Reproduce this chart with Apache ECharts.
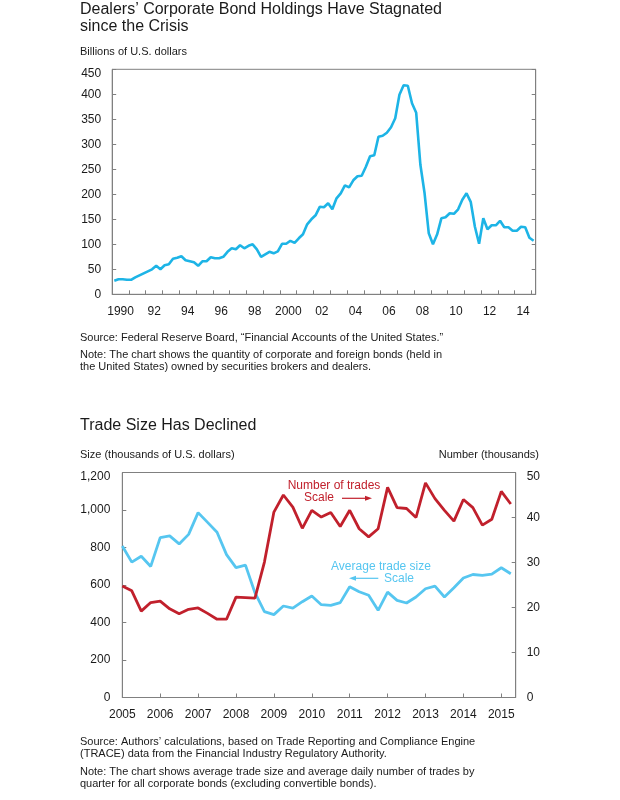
<!DOCTYPE html>
<html><head><meta charset="utf-8">
<script src="https://cdn.jsdelivr.net/npm/echarts@6/dist/echarts.min.js"></script>
<style>html,body{margin:0;padding:0;background:#fff}#c{width:620px;height:800px}</style>
</head><body><div id="c"></div>
<script>
// ---------- Chart 1: Dealers' corporate bond holdings (quarterly, 1990Q1 - 2015Q1) ----------
const holdingsFirstQuarter = 1990; // year of first quarter
const holdings = [
  27, 30, 30, 29, 29, 34, 38, 42, 46, 50,
  57, 50, 58, 60, 71, 73, 76, 68, 66, 64,
  57, 66, 66, 74, 72, 72, 75, 85, 92, 90,
  98, 92, 97, 100, 90, 75, 80, 85, 82, 86,
  101, 101, 107, 103, 112, 120, 140, 150, 158, 175,
  174, 182, 170, 192, 202, 218, 214, 228, 236, 237,
  255, 276, 278, 315, 317, 323, 334, 352, 399, 418,
  417, 382, 363, 259, 202, 122, 100, 120, 152, 154,
  162, 161, 170, 189, 202, 185, 135, 101, 152, 130,
  138, 138, 147, 134, 134, 127, 127, 135, 134, 113,
  107
];
const topYearLabels = ['1990','92','94','96','98','2000','02','04','06','08','10','12','14'];
const topYTicks = ['0','50','100','150','200','250','300','350','400','450'];

// ---------- Chart 2: Trade size and number of trades (quarterly, 2005Q1 - 2015Q2) ----------
const tradeFirstQuarter = 2005;
const avgTradeSize = [
  808, 722, 753, 699, 853, 862, 819, 870, 986, 934,
  881, 762, 693, 706, 559, 458, 442, 488, 477, 511,
  541, 495, 491, 506, 591, 564, 545, 465, 562, 518,
  504, 536, 580, 594, 536, 585, 637, 656, 651, 658,
  692, 660
];
const numTrades = [
  24.8, 23.7, 19.2, 21.1, 21.4, 19.7, 18.6, 19.6, 19.9, 18.7,
  17.4, 17.4, 22.3, 22.2, 22.1, 30.1, 41.2, 45.0, 42.3, 37.6,
  41.6, 40.1, 41.1, 38.0, 41.6, 37.5, 35.7, 37.5, 46.7, 42.2,
  42.0, 40.0, 47.7, 44.2, 41.6, 39.2, 44.0, 42.2, 38.3, 39.6,
  45.8, 43.0
];
const bottomYearLabels = ['2005','2006','2007','2008','2009','2010','2011','2012','2013','2014','2015'];
const sizeTicks = ['0','200','400','600','800','1,000','1,200'];
const countTicks = ['0','10','20','30','40','50'];

const FONT = '"Liberation Sans", Arial, Helvetica, sans-serif';
const TXT = '#1a1a1a';
const AX = '#808080';
const TOPBLUE = '#1DB4E6';
const BLUE = '#56C6F0';
const RED = '#C1202C';

const holdingsData = holdings.map((v, i) => [holdingsFirstQuarter + 0.125 + i * 0.25, v]);
const sizeData = avgTradeSize.map((v, i) => [tradeFirstQuarter + i * 0.25, v]);
const countData = numTrades.map((v, i) => [tradeFirstQuarter + i * 0.25, v]);

// top-most tick label sits a little below its tick, as in the reference
function tickFmt(arr, step) {
  return function (v) {
    const k = Math.round(v / step);
    if (arr[k] === undefined) return '';
    return k === arr.length - 1 ? '{top|' + arr[k] + '}' : arr[k];
  };
}
const richTop = { top: { padding: [8, 0, 0, 0], fontSize: 12, fontFamily: FONT, color: TXT } };
const axLine = { show: true, lineStyle: { color: AX, width: 1 } };
const tickIn = { show: true, inside: true, length: 4, lineStyle: { color: AX, width: 1 } };
const lbl = (extra) => Object.assign({ color: TXT, fontSize: 12, fontFamily: FONT }, extra);

const chart = echarts.init(document.getElementById('c'), null, { renderer: 'canvas' });

function txt(x, y, s, size) {
  return {
    type: 'text', x: x, y: y, silent: true,
    style: { text: s, fill: TXT, font: size + 'px ' + FONT, verticalAlign: 'middle', align: 'left' }
  };
}
function arrow(x1, x2, y, color) {
  const dir = x2 > x1 ? 1 : -1;
  return {
    type: 'group', silent: true, children: [
      { type: 'line', shape: { x1: x1, y1: y, x2: x2 - dir * 5, y2: y }, style: { stroke: color, lineWidth: 1.2 } },
      { type: 'polygon', shape: { points: [[x2, y], [x2 - dir * 7, y - 2.5], [x2 - dir * 7, y + 2.5]] }, style: { fill: color } }
    ]
  };
}

chart.setOption({
  animation: false,
  backgroundColor: '#fff',
  textStyle: { fontFamily: FONT },
  grid: [
    { left: 112.2, top: 69.3, width: 423.5, height: 225, show: true, borderColor: AX, borderWidth: 1, backgroundColor: 'transparent', outerBoundsMode: 'none' },
    { left: 122.3, top: 472.5, width: 393.4, height: 225, show: true, borderColor: AX, borderWidth: 1, backgroundColor: 'transparent', outerBoundsMode: 'none' }
  ],
  xAxis: [
    { type: 'value', gridIndex: 0, min: 1990, max: 2015.25, interval: 1, axisLine: axLine, axisTick: tickIn,
      axisLabel: { show: false }, splitLine: { show: false } },
    { type: 'value', gridIndex: 0, position: 'bottom', min: 1990, max: 2015.25, interval: 0.5,
      axisLine: { show: false }, axisTick: { show: false }, splitLine: { show: false },
      axisLabel: lbl({ margin: 11, showMinLabel: true, showMaxLabel: true, formatter: function (v) {
        const k = Math.round((v - 1990.5) * 2);
        if (Math.abs((v - 1990.5) * 2 - k) > 1e-6 || k < 0 || k % 4 !== 0) return '';
        return topYearLabels[k / 4] || '';
      } }) },
    { type: 'value', gridIndex: 1, min: 2005, max: 2015.38, interval: 1, axisLine: axLine, axisTick: tickIn,
      splitLine: { show: false },
      axisLabel: lbl({ margin: 11, formatter: function (v) {
        const k = v - 2005; const r = Math.round(k);
        if (Math.abs(k - r) > 1e-6) return '';
        return bottomYearLabels[r] || '';
      } }) }
  ],
  yAxis: [
    { type: 'value', gridIndex: 0, min: 0, max: 450, interval: 50, axisLine: axLine, axisTick: tickIn,
      splitLine: { show: false }, axisLabel: lbl({ margin: 11, formatter: tickFmt(topYTicks, 50), rich: richTop }) },
    { type: 'value', gridIndex: 0, position: 'right', min: 0, max: 450, interval: 50, axisLine: axLine, axisTick: tickIn,
      splitLine: { show: false }, axisLabel: { show: false } },
    { type: 'value', gridIndex: 1, position: 'left', min: 0, max: 1200, interval: 200, axisLine: axLine, axisTick: tickIn,
      splitLine: { show: false }, axisLabel: lbl({ margin: 12, formatter: tickFmt(sizeTicks, 200), rich: richTop }) },
    { type: 'value', gridIndex: 1, position: 'right', min: 0, max: 50, interval: 10, axisLine: axLine, axisTick: tickIn,
      splitLine: { show: false }, axisLabel: lbl({ margin: 11, formatter: tickFmt(countTicks, 10), rich: richTop }) }
  ],
  series: [
    { type: 'line', name: 'Holdings', xAxisIndex: 0, yAxisIndex: 0, data: holdingsData, showSymbol: false,
      lineStyle: { color: TOPBLUE, width: 2.6 }, itemStyle: { color: TOPBLUE }, z: 3 },
    { type: 'line', name: 'Average trade size', xAxisIndex: 2, yAxisIndex: 2, data: sizeData, showSymbol: false,
      lineStyle: { color: BLUE, width: 2.8 }, itemStyle: { color: BLUE }, z: 3 },
    { type: 'line', name: 'Number of trades', xAxisIndex: 2, yAxisIndex: 3, data: countData, showSymbol: false,
      lineStyle: { color: RED, width: 2.8 }, itemStyle: { color: RED }, z: 4 }
  ],
  graphic: [
    txt(80, 10, 'Dealers’ Corporate Bond Holdings Have Stagnated', 16),
    txt(80, 27, 'since the Crisis', 16),
    txt(80, 52, 'Billions of U.S. dollars', 11),
    txt(80, 338, 'Source: Federal Reserve Board, “Financial Accounts of the United States.”', 11),
    txt(80, 355, 'Note: The chart shows the quantity of corporate and foreign bonds (held in', 11),
    txt(80, 367, 'the United States) owned by securities brokers and dealers.', 11),
    txt(80, 426, 'Trade Size Has Declined', 16),
    txt(80, 455, 'Size (thousands of U.S. dollars)', 11),
    { type: 'text', x: 539, y: 455, silent: true, style: { text: 'Number (thousands)', fill: TXT, font: '11px ' + FONT, verticalAlign: 'middle', align: 'right' } },
    txt(80, 742, 'Source: Authors’ calculations, based on Trade Reporting and Compliance Engine', 11),
    txt(80, 753.5, '(TRACE) data from the Financial Industry Regulatory Authority.', 11),
    txt(80, 772, 'Note: The chart shows average trade size and average daily number of trades by', 11),
    txt(80, 783.5, 'quarter for all corporate bonds (excluding convertible bonds).', 11),
    { type: 'text', x: 334, y: 485.5, silent: true, z: 10, style: { text: 'Number of trades', fill: RED, font: '12px ' + FONT, verticalAlign: 'middle', align: 'center' } },
    { type: 'text', x: 319, y: 497.5, silent: true, z: 10, style: { text: 'Scale', fill: RED, font: '12px ' + FONT, verticalAlign: 'middle', align: 'center' } },
    arrow(342, 372, 498.3, RED),
    { type: 'text', x: 381, y: 567, silent: true, z: 10, style: { text: 'Average trade size', fill: BLUE, font: '12px ' + FONT, verticalAlign: 'middle', align: 'center' } },
    { type: 'text', x: 399, y: 579, silent: true, z: 10, style: { text: 'Scale', fill: BLUE, font: '12px ' + FONT, verticalAlign: 'middle', align: 'center' } },
    arrow(378.3, 349, 578.3, BLUE)
  ]
});
</script>
</body></html>
